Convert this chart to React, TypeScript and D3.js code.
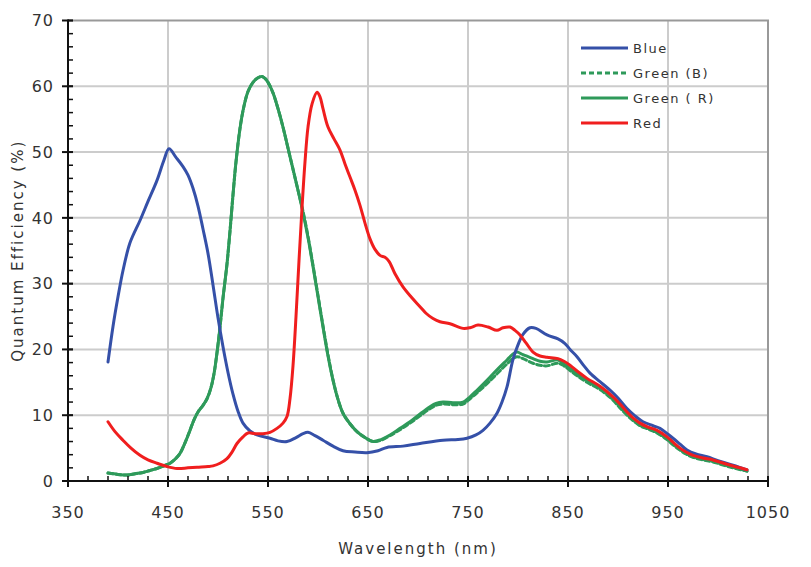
import * as d3 from 'd3'

type Pt = [number, number] // [wavelength nm, QE %]

const blue: Pt[] = [
  [390, 18.1], [395, 23.5], [400, 28], [405, 32], [412, 36.2], [422, 39.6], [430, 42.5], [439, 45.7],
  [446, 48.8], [451, 50.5], [458, 49.2], [465, 47.8], [470, 46.5], [475, 44.5], [480, 41.8], [485, 38.3],
  [490, 34.6], [495, 29.8], [500, 24.8], [505, 20.4], [510, 16.5], [515, 13.2], [520, 10.6], [525, 8.8],
  [532, 7.6], [539, 7.0], [552, 6.5], [560, 6.1], [569, 6.0], [578, 6.6], [585, 7.2], [590, 7.4],
  [597, 6.9], [605, 6.2], [615, 5.3], [625, 4.6], [637, 4.4], [649, 4.3], [660, 4.6], [669, 5.1],
  [685, 5.3], [702, 5.7], [725, 6.2], [740, 6.3], [749, 6.5], [758, 7.0], [765, 7.7], [772, 8.8],
  [779, 10.3], [784, 12], [789, 14.3], [795, 18.5], [800, 20.7], [805, 22.3], [812, 23.3], [818, 23.2],
  [829, 22.2], [840, 21.6], [847, 20.9], [852, 20.0], [859, 18.9], [866, 17.5], [872, 16.4], [882, 15.1],
  [892, 13.8], [900, 12.6], [909, 11.0], [917, 9.9], [925, 9.0], [935, 8.4], [942, 8.0], [950, 7.1],
  [955, 6.5], [962, 5.6], [969, 4.7], [978, 4.1], [989, 3.7], [1000, 3.1], [1015, 2.4], [1029, 1.7],
]

const greenB: Pt[] = [
  [390, 1.2], [400, 1.0], [409, 0.9], [417, 1.1], [425, 1.3], [432, 1.6], [439, 1.9], [446, 2.3],
  [452, 2.7], [457, 3.3], [462, 4.2], [467, 5.8], [472, 7.7], [476, 9.3], [480, 10.5], [485, 11.5],
  [489, 12.5], [493, 14.2], [496, 16.3], [499, 19.5], [502, 23.4], [505, 27.8], [509, 33], [512, 38],
  [515, 43.5], [518, 48.5], [522, 53.6], [526, 57.0], [530, 59.2], [535, 60.6], [540, 61.3], [544, 61.5],
  [547, 61.2], [550, 60.6], [555, 59.0], [560, 56.6], [565, 53.8], [570, 50.6], [575, 47.4], [580, 44.2],
  [585, 41.0], [590, 37.2], [595, 32.8], [600, 28.2], [605, 23.6], [610, 19.2], [615, 15.4], [620, 12.4],
  [625, 10.3], [632, 8.7], [639, 7.5], [647, 6.6], [655, 6.0], [663, 6.2], [672, 6.9], [682, 7.8],
  [692, 8.8], [702, 9.9], [712, 11.0], [718, 11.5], [725, 11.7], [735, 11.6], [745, 11.7], [752, 12.5],
  [759, 13.4], [769, 14.8], [779, 16.3], [789, 17.8], [795, 18.6], [799, 18.9], [805, 18.6], [815, 17.9],
  [822, 17.6], [829, 17.5], [840, 17.9], [846, 17.5], [852, 16.8], [860, 15.9], [869, 15.0], [882, 13.9],
  [895, 12.3], [902, 11.1], [909, 10.0], [915, 9.2], [922, 8.4], [930, 7.9], [939, 7.3], [949, 6.3],
  [955, 5.5], [962, 4.7], [968, 4.1], [975, 3.6], [985, 3.2], [995, 2.9], [1010, 2.2], [1029, 1.5],
]

const greenR: Pt[] = [
  [390, 1.2], [400, 1.0], [409, 0.9], [417, 1.1], [425, 1.3], [432, 1.6], [439, 1.9], [446, 2.3],
  [452, 2.7], [457, 3.3], [462, 4.2], [467, 5.8], [472, 7.7], [476, 9.3], [480, 10.5], [485, 11.5],
  [489, 12.5], [493, 14.2], [496, 16.3], [499, 19.5], [502, 23.4], [505, 27.8], [509, 33], [512, 38],
  [515, 43.5], [518, 48.5], [522, 53.6], [526, 57.0], [530, 59.2], [535, 60.6], [540, 61.3], [544, 61.5],
  [547, 61.2], [550, 60.6], [555, 59.0], [560, 56.6], [565, 53.8], [570, 50.6], [575, 47.4], [580, 44.2],
  [585, 40.8], [590, 37.0], [595, 32.6], [600, 28.0], [605, 23.4], [610, 19.0], [615, 15.3], [620, 12.4],
  [625, 10.3], [632, 8.7], [639, 7.5], [647, 6.6], [655, 6.0], [663, 6.3], [672, 7.0], [682, 8.0],
  [692, 9.0], [702, 10.2], [712, 11.3], [718, 11.8], [725, 12.0], [735, 11.9], [745, 12.0], [752, 12.8],
  [759, 13.8], [769, 15.3], [779, 16.9], [789, 18.4], [795, 19.3], [799, 19.6], [805, 19.2], [815, 18.6],
  [822, 18.2], [829, 18.1], [840, 18.4], [846, 17.8], [852, 17.1], [860, 16.2], [869, 15.3], [882, 14.1],
  [895, 12.5], [902, 11.3], [909, 10.2], [915, 9.3], [922, 8.5], [930, 8.0], [939, 7.4], [949, 6.4],
  [955, 5.6], [962, 4.8], [968, 4.2], [975, 3.7], [985, 3.3], [995, 3.0], [1010, 2.3], [1029, 1.5],
]

const red: Pt[] = [
  [390, 9.0], [397, 7.5], [405, 6.2], [413, 5.0], [422, 3.9], [430, 3.2], [439, 2.7], [449, 2.2],
  [459, 1.9], [470, 2.0], [479, 2.1], [490, 2.2], [495, 2.3], [502, 2.7], [509, 3.4], [514, 4.4],
  [519, 5.7], [525, 6.7], [530, 7.3], [537, 7.2], [545, 7.2], [552, 7.4], [559, 8.0], [565, 8.8],
  [569, 9.8], [572, 12.5], [575, 17.5], [578, 25], [581, 33.5], [584, 41.5], [587, 48.5], [590, 53.8],
  [594, 57.3], [599, 59.1], [602, 58.4], [605, 56.6], [610, 53.8], [616, 52.0], [622, 50.3],
  [627, 48.2], [632, 46.2], [637, 44.2], [642, 41.9], [647, 39.2], [652, 36.8], [657, 35.2], [662, 34.3],
  [667, 34.0], [671, 33.4], [677, 31.5], [685, 29.5], [693, 28.0], [702, 26.5], [708, 25.5], [715, 24.7],
  [722, 24.2], [732, 23.9], [745, 23.2], [752, 23.3], [760, 23.7], [770, 23.4], [779, 22.9], [785, 23.3],
  [792, 23.4], [797, 22.9], [802, 22.2], [808, 21.0], [815, 19.6], [822, 19.0], [829, 18.8], [840, 18.6],
  [846, 18.2], [852, 17.6], [860, 16.6], [869, 15.6], [882, 14.4], [895, 12.8], [902, 11.7], [909, 10.5],
  [915, 9.6], [922, 8.8], [930, 8.2], [939, 7.7], [949, 6.7], [955, 5.9], [962, 5.0], [968, 4.4],
  [975, 3.9], [985, 3.5], [995, 3.2], [1010, 2.5], [1029, 1.7],
]

const xTicks = [350, 450, 550, 650, 750, 850, 950, 1050]
const yTicks = [0, 10, 20, 30, 40, 50, 60, 70]

const series = [
  {name: 'Blue', data: blue, color: '#3550a8', dash: ''},
  {name: 'Green (B)', data: greenB, color: '#2e9a5a', dash: '5,3'},
  {name: 'Green ( R)', data: greenR, color: '#2e9a5a', dash: ''},
  {name: 'Red', data: red, color: '#f01e1e', dash: ''},
]

export default function App() {
  const width = 811
  const height = 567
  const marginLeft = 68
  const marginRight = 43
  const marginTop = 20.5
  const marginBottom = 86

  const x = d3.scaleLinear([350, 1050], [marginLeft, width - marginRight])
  const y = d3.scaleLinear([0, 70], [height - marginBottom, marginTop])

  const line = d3.line<Pt>()
    .x(d => x(d[0]))
    .y(d => y(d[1]))
    .curve(d3.curveCatmullRom.alpha(0.5))

  const xMinor = d3.range(350, 1051, 20)
  const yMinor = d3.range(0, 71, 2)
  const font = '"DejaVu Sans", Verdana, sans-serif'
  const drawOrder = [series[1], series[2], series[0], series[3]]

  return (
    <svg width={width} height={height} style={{position: 'absolute', left: 0, top: 0, background: '#fff'}}
         fontFamily={font}>
      {/* grid */}
      {xTicks.slice(1, -1).map(t => (
        <line key={'gx' + t} x1={x(t)} x2={x(t)} y1={y(0)} y2={y(70)} stroke="#cccccc" strokeWidth={2}/>
      ))}
      {yTicks.slice(1, -1).map(t => (
        <line key={'gy' + t} x1={x(350)} x2={x(1050)} y1={y(t)} y2={y(t)} stroke="#cccccc" strokeWidth={2}/>
      ))}
      {/* frame top / right */}
      <path d={`M${x(350)},${y(70)}H${x(1050)}V${y(0)}`} fill="none" stroke="#999" strokeWidth={2}/>

      {/* curves */}
      {drawOrder.map(s => (
        <path key={s.name} d={line(s.data) ?? ''} fill="none" stroke={s.color} strokeWidth={3}
              strokeDasharray={s.dash} strokeLinejoin="round" strokeLinecap="round"/>
      ))}

      {/* axes */}
      <line x1={x(350)} x2={x(350)} y1={y(70) - 1} y2={y(0)} stroke="#111" strokeWidth={2}/>
      <line x1={x(350)} x2={x(1050)} y1={y(0)} y2={y(0)} stroke="#111" strokeWidth={2}/>
      {yMinor.map(t => (
        <line key={'ym' + t} x1={x(350)} x2={x(350) + 5} y1={y(t)} y2={y(t)} stroke="#111" strokeWidth={1.5}/>
      ))}
      {yTicks.map(t => (
        <line key={'yM' + t} x1={x(350) - 6} x2={x(350) + 5} y1={y(t)} y2={y(t)} stroke="#111" strokeWidth={2}/>
      ))}
      {xMinor.map(t => (
        <line key={'xm' + t} x1={x(t)} x2={x(t)} y1={y(0)} y2={y(0) - 5} stroke="#111" strokeWidth={1.5}/>
      ))}
      {xTicks.map(t => (
        <line key={'xM' + t} x1={x(t)} x2={x(t)} y1={y(0) - 5} y2={y(0) + 6} stroke="#111" strokeWidth={2}/>
      ))}

      {/* tick labels */}
      {yTicks.map(t => (
        <text key={'yl' + t} x={x(350) - 14} y={y(t)} dy="0.36em" textAnchor="end" fontSize={16}
              letterSpacing={1} fill="#333">{t}</text>
      ))}
      {xTicks.map(t => (
        <text key={'xl' + t} x={x(t)} y={y(0) + 31} dy="0.36em" textAnchor="middle" fontSize={16}
              letterSpacing={1} fill="#333">{t}</text>
      ))}

      {/* axis titles */}
      <text x={(x(350) + x(1050)) / 2} y={549} dy="0.36em" textAnchor="middle" fontSize={15}
            letterSpacing={2} fill="#333">Wavelength (nm)</text>
      <text transform={`translate(18,${(y(0) + y(70)) / 2}) rotate(-90)`} dy="0.36em" textAnchor="middle"
            fontSize={15} letterSpacing={2} fill="#333">Quantum Efficiency (%)</text>

      {/* legend */}
      {series.map((s, i) => (
        <g key={'lg' + s.name} transform={`translate(581,${48 + i * 25})`}>
          <line x1={0} x2={47} y1={0} y2={0} stroke={s.color} strokeWidth={3} strokeDasharray={s.dash}/>
          <text x={52} y={0} dy="0.36em" fontSize={13} letterSpacing={1.5} fill="#333">{s.name}</text>
        </g>
      ))}
    </svg>
  )
}
